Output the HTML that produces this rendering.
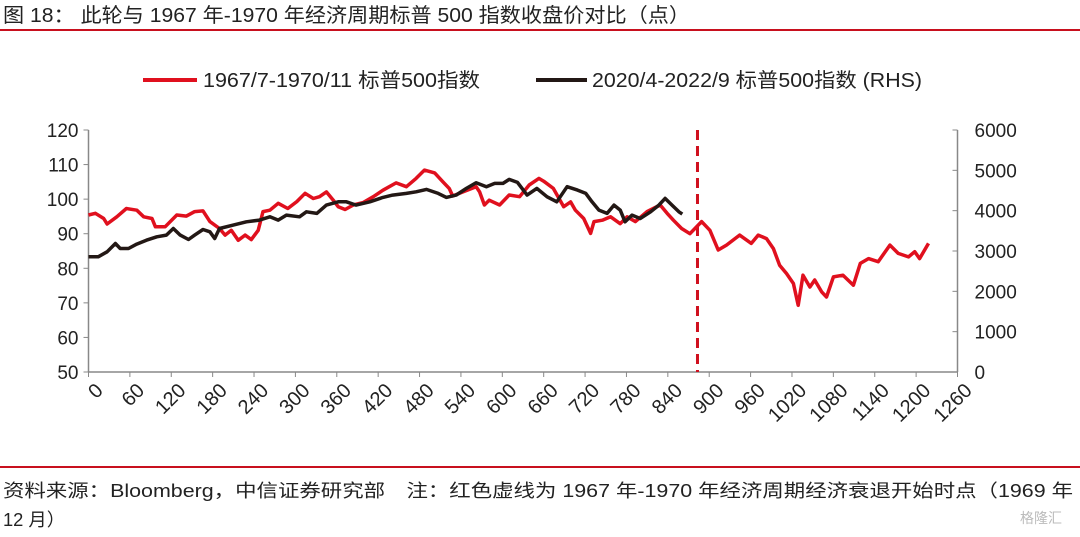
<!DOCTYPE html>
<html><head><meta charset="utf-8"><style>
body{margin:0;background:#fff;width:1080px;height:532px;overflow:hidden;font-family:"Liberation Sans","Noto Sans CJK SC",sans-serif;}
</style></head><body>
<svg id="chart" width="1080" height="532" viewBox="0 0 1080 532" xmlns="http://www.w3.org/2000/svg" font-family="Liberation Sans, Noto Sans CJK SC, sans-serif">
<text x="3" y="22" font-size="20" fill="#222" textLength="687" lengthAdjust="spacingAndGlyphs">图 18：  此轮与 1967 年-1970 年经济周期标普 500 指数收盘价对比（点）</text>
<line x1="0" y1="30" x2="1080" y2="30" stroke="#c8101e" stroke-width="2"/>
<g>
<line x1="143" y1="80" x2="197" y2="80" stroke="#e0101e" stroke-width="4"/>
<text x="203" y="87" font-size="20" fill="#222" textLength="277" lengthAdjust="spacingAndGlyphs">1967/7-1970/11 标普500指数</text>
<line x1="536" y1="80" x2="587" y2="80" stroke="#231815" stroke-width="4"/>
<text x="592" y="87" font-size="20" fill="#222" textLength="330" lengthAdjust="spacingAndGlyphs">2020/4-2022/9 标普500指数 (RHS)</text>
</g>
<g id="axes"></g>
<g id="marks"></g>
<line x1="0" y1="467" x2="1080" y2="467" stroke="#c8101e" stroke-width="2"/>
<text x="3" y="497" font-size="18" fill="#222" textLength="1070" lengthAdjust="spacingAndGlyphs">资料来源：Bloomberg，中信证券研究部　注：红色虚线为 1967 年-1970 年经济周期经济衰退开始时点（1969 年</text>
<text x="3" y="526" font-size="18" fill="#222" textLength="62" lengthAdjust="spacingAndGlyphs">12 月）</text>
<text x="1020" y="523" font-size="14" fill="#bbb">格隆汇</text>
</svg>
<script>
const xTicks=[0,60,120,180,240,300,360,420,480,540,600,660,720,780,840,900,960,1020,1080,1140,1200,1260];
const leftTicks=[50,60,70,80,90,100,110,120];
const rightTicks=[0,1000,2000,3000,4000,5000,6000];
const redX=[0,10,22,27,41,55,70,80,92,97,111,128,142,154,166,176,190,198,207,217,227,236,246,253,263,275,289,302,314,326,335,345,355,362,372,384,398,413,427,446,461,475,487,502,514,523,528,543,562,567,574,581,596,610,625,639,653,660,674,689,699,706,718,728,733,745,757,771,781,793,810,829,839,848,860,872,889,901,913,925,944,961,971,983,993,1002,1012,1022,1029,1036,1046,1053,1063,1070,1080,1094,1109,1119,1131,1145,1162,1174,1189,1198,1205,1218];
const redV=[95.4,95.9,94.4,92.8,94.9,97.3,96.8,94.9,94.4,92,92,95.4,95.1,96.4,96.6,93.5,91.5,89.6,91,88.1,89.6,88.3,91,96.4,96.8,98.8,97.3,99.3,101.7,100.2,100.7,102.1,99.7,97.8,97,98.3,99,100.7,102.6,104.7,103.6,106,108.4,107.6,105,103.1,100.9,102.1,103.6,102.1,98.3,99.7,98.3,101.2,100.7,104.1,106,105.2,103.1,97.8,99.2,96.8,94.4,90.1,93.5,93.9,94.9,92.9,94.9,93.5,96.4,98.3,95.9,93.9,91.5,90,93.5,91,85.3,86.7,89.6,87.2,89.6,88.6,85.7,80.9,78.5,75.6,69.3,78,74.6,76.6,73.2,71.7,77.5,78,75.1,81.4,82.8,81.9,86.7,84.3,83.3,84.8,82.8,87.2];
const blackX=[0,14,27,39,46,58,70,84,99,113,123,133,145,154,166,176,183,190,210,229,248,263,275,287,306,316,331,345,362,374,388,408,427,441,461,475,490,507,519,533,548,562,577,589,601,610,622,636,650,665,679,694,709,721,730,740,752,762,771,778,788,800,815,827,836,846,856,861];
const blackV=[2855,2855,2979,3186,3062,3062,3170,3269,3352,3393,3559,3393,3285,3393,3534,3476,3310,3559,3641,3724,3766,3848,3766,3890,3848,3972,3931,4138,4221,4221,4138,4221,4328,4386,4428,4469,4527,4428,4328,4386,4552,4693,4593,4676,4676,4775,4700,4386,4552,4345,4221,4593,4510,4428,4221,4014,3931,4138,4014,3724,3890,3807,3972,4138,4303,4138,3972,3914];
const recessionX=[883];
const X0=88.5,X1=957.5,YT=130,YB=372;
const xs=v=>X0+(v-0)/1260*(X1-X0);
const yl=v=>YB-(v-50)/70*(YB-YT);
const yr=v=>YB-v/6000*(YB-YT);
const NS='http://www.w3.org/2000/svg';
const axes=document.getElementById('axes'),marks=document.getElementById('marks');
function mk(tag,attrs,parent){const e=document.createElementNS(NS,tag);for(const k in attrs)e.setAttribute(k,attrs[k]);parent.appendChild(e);return e;}
let e;
e=mk('line',{x1:X0,y1:YT,x2:X0,y2:YB,stroke:'#888','stroke-width':1.5},axes);


e=mk('line',{x1:X1,y1:YT,x2:X1,y2:YB,stroke:'#888','stroke-width':1.5},axes);


e=mk('line',{x1:X0,y1:YB,x2:X1,y2:YB,stroke:'#888','stroke-width':1.5},axes);


leftTicks.forEach(t=>{const y=yl(t);
 e=mk('line',{x1:X0-5,y1:y,x2:X0,y2:y,stroke:'#888'},axes);
 
 
 e=mk('text',{x:X0-10,y:y+7,'font-size':19,'text-anchor':'end',fill:'#222'},axes);e.textContent=t;
 
 });
rightTicks.forEach(t=>{const y=yr(t);
 e=mk('line',{x1:X1,y1:y,x2:X1-5,y2:y,stroke:'#888'},axes);
 
 
 e=mk('text',{x:X1+17,y:y+7,'font-size':19,fill:'#222'},axes);e.textContent=t;
 
 });
xTicks.forEach(t=>{const x=xs(t);
 e=mk('line',{x1:x,y1:YB,x2:x,y2:YB+5,stroke:'#888'},axes);
 
 
 e=mk('text',{x:x+6,y:YB+10,'font-size':20,'text-anchor':'end',fill:'#222',transform:`rotate(-45 ${x+6} ${YB+10})`,'dominant-baseline':'hanging'},axes);e.textContent=t;
 
 });
recessionX.forEach(v=>{
 e=mk('line',{x1:xs(v),y1:YT,x2:xs(v),y2:YB,stroke:'#d0101e','stroke-width':3,'stroke-dasharray':'10,6'},marks);
 
 });
e=mk('polyline',{points:redX.map((x,i)=>xs(x).toFixed(1)+','+yl(redV[i]).toFixed(1)).join(' '),fill:'none',stroke:'#e0101e','stroke-width':3.5,'stroke-linejoin':'round'},marks);


e=mk('polyline',{points:blackX.map((x,i)=>xs(x).toFixed(1)+','+yr(blackV[i]).toFixed(1)).join(' '),fill:'none',stroke:'#231815','stroke-width':3.5,'stroke-linejoin':'round'},marks);


</script>
</body></html>
